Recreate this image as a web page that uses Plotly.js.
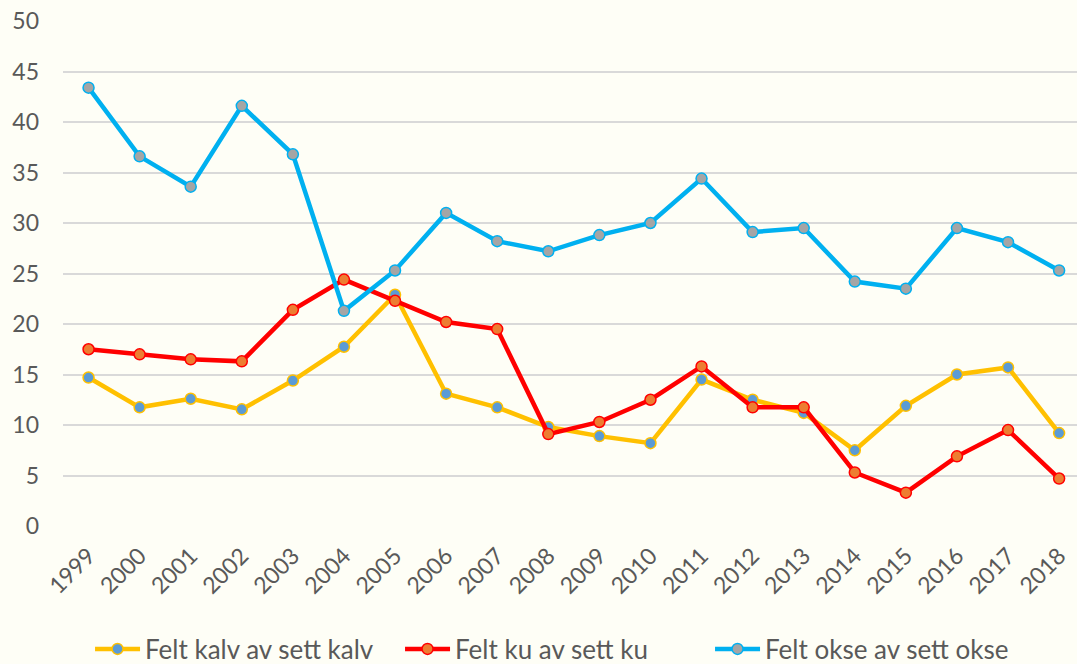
<!DOCTYPE html>
<html>
<head>
<meta charset="utf-8">
<script src="https://cdn.plot.ly/plotly-3.0.1.min.js"></script>
<style>
html,body{margin:0;padding:0;background:#fefef6;overflow:hidden;}
#chart{width:1077px;height:664px;}
</style>
</head>
<body>
<div id="chart"></div>
<script>
const years = ["1999","2000","2001","2002","2003","2004","2005","2006","2007","2008","2009","2010","2011","2012","2013","2014","2015","2016","2017","2018"];
const feltKalv = [14.7,11.75,12.6,11.55,14.4,17.75,22.9,13.1,11.75,9.8,8.9,8.2,14.5,12.5,11.2,7.5,11.9,15.0,15.7,9.2];
const feltKu = [17.5,17.0,16.5,16.3,21.4,24.4,22.3,20.2,19.5,9.1,10.3,12.5,15.8,11.75,11.75,5.3,3.3,6.9,9.5,4.7];
const feltOkse = [43.4,36.6,33.6,41.6,36.8,21.3,25.3,31.0,28.2,27.2,28.8,30.0,34.4,29.1,29.5,24.2,23.5,29.5,28.1,25.3];
const seriesNames = ["Felt kalv av sett kalv","Felt ku av sett ku","Felt okse av sett okse"];
const yTicks = [0,5,10,15,20,25,30,35,40,45,50];

function mk(y, name, lineColor, markerColor){
  return {
    x: years, y: y, name: name, type: 'scatter', mode: 'lines+markers',
    line: {color: lineColor, width: 4.5},
    marker: {color: markerColor, size: 11, line: {color: lineColor, width: 1.5}}
  };
}
const data = [
  mk(feltKalv, seriesNames[0], '#ffc000', '#5b9bd5'),
  mk(feltKu, seriesNames[1], '#ff0000', '#ed7d31'),
  mk(feltOkse, seriesNames[2], '#00b0f0', '#a5a5a5')
];
const layout = {
  width: 1077, height: 664,
  paper_bgcolor: '#fefef6', plot_bgcolor: '#fefef6',
  font: {family: 'Lato, "Open Sans", sans-serif', color: '#595959', size: 22},
  margin: {l: 63, r: 0, t: 21, b: 138},
  showlegend: true,
  legend: {orientation: 'h', xref: 'container', yref: 'container', x: 0.0836, xanchor: 'left',
           y: 0.058, yanchor: 'top', itemwidth: 45, entrywidth: 250, entrywidthmode: 'pixels',
           bgcolor: 'rgba(0,0,0,0)', font: {size: 26, color: '#595959'}, traceorder: 'normal'},
  xaxis: {type: 'category', range: [-0.5, 19.35], tickangle: -45, showgrid: false, automargin: false,
          showline: false, zeroline: false, ticks: '', ticklabelstandoff: 11,
          tickfont: {size: 23, color: '#595959'}},
  yaxis: {range: [0, 50], tickvals: yTicks, ticktext: yTicks.map(String), showgrid: true, automargin: false,
          gridcolor: '#d9d9d9', gridwidth: 2, zeroline: false, showline: false, ticks: '',
          ticklabelstandoff: 23, tickfont: {size: 23, color: '#595959'}}
};
Plotly.newPlot('chart', data, layout, {displayModeBar: false, staticPlot: true});
</script>
</body>
</html>
